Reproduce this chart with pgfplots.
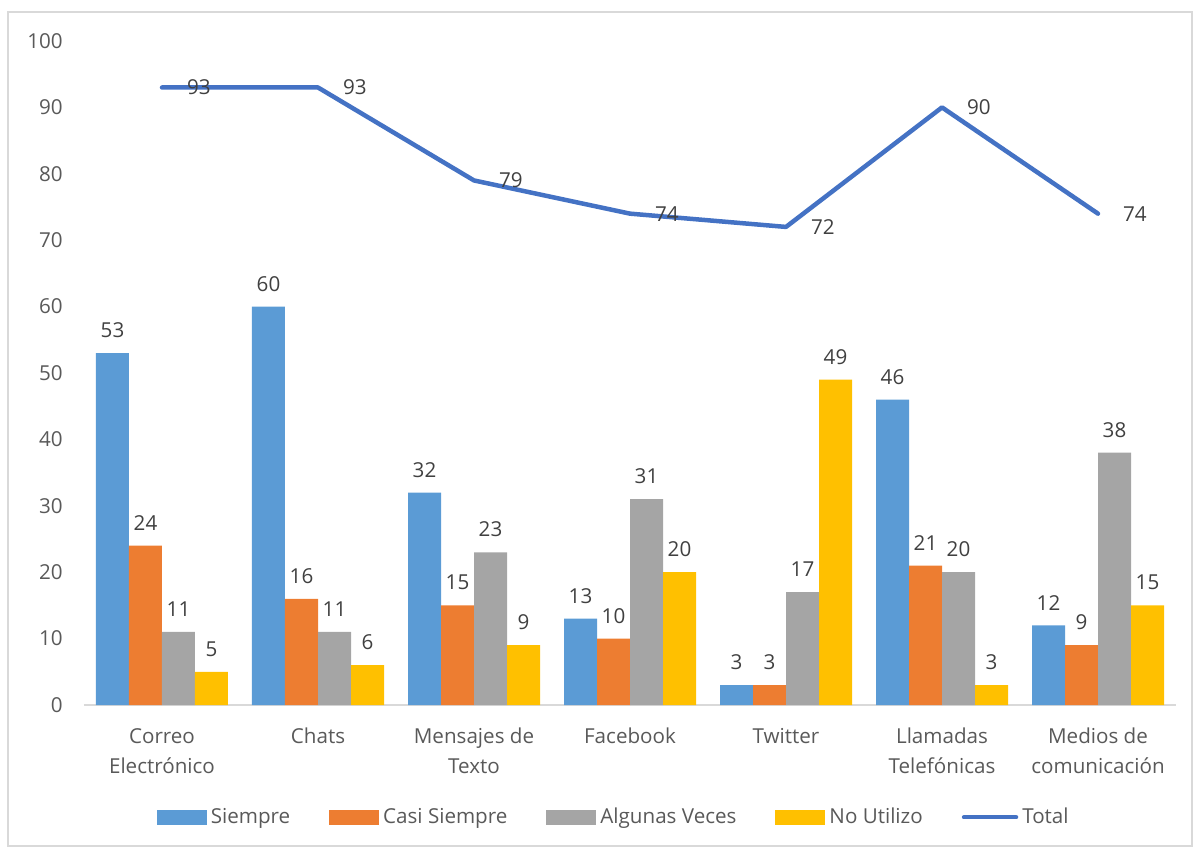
\documentclass[border=0pt]{standalone}
\usepackage{pgfplots}
\pgfplotsset{compat=1.18}
\usepackage{fontspec}
\setmainfont{Open Sans}
\definecolor{cS}{HTML}{5B9BD5}
\definecolor{cC}{HTML}{ED7D31}
\definecolor{cA}{HTML}{A5A5A5}
\definecolor{cN}{HTML}{FFC000}
\definecolor{cT}{HTML}{4472C4}
\definecolor{lab}{HTML}{404040}
\definecolor{tick}{HTML}{595959}
\definecolor{axl}{HTML}{D9D9D9}
\begin{document}
\fontsize{10.3}{15}\selectfont
\begin{tikzpicture}
\path[use as bounding box] (-42pt,-71.5pt) rectangle (555pt,352.5pt);
\draw[color=axl, line width=0.75pt] (-38pt,-70.5pt) rectangle (554pt,346.5pt);
\begin{axis}[
  at={(0,0)}, anchor=south west,
  scale only axis, width=546pt, height=332pt,
  xmin=-0.5, xmax=6.5, ymin=0, ymax=100,
  ytick={0,10,...,100},
  xtick={0,...,6},
  xticklabels={Correo\\Electrónico, Chats, Mensajes de\\Texto, Facebook, Twitter, Llamadas\\Telefónicas, Medios de\\comunicación},
  x tick label style={align=center, color=tick, font=\fontsize{10.3}{15}\selectfont, yshift=-8pt},
  y tick label style={color=tick, font=\fontsize{10.3}{15}\selectfont, xshift=-7pt},
  /pgf/number format/assume math mode=true,
  axis x line*=bottom, axis y line*=left,
  y axis line style={draw=none},
  x axis line style={-, draw=axl, line width=0.75pt},
  major tick length=0pt,
  clip=false,
  legend style={at={(0.486,-0.169)}, anchor=center, draw=none, fill=none,
    legend columns=-1, font=\fontsize{10.3}{15}\selectfont, text=tick,
    /tikz/every even column/.append style={column sep=17.5pt}},
  legend cell align=left,
]
\addplot[ybar, bar width=16.5pt, bar shift=-24.75pt, fill=cS, draw=none,
  nodes near coords, every node near coord/.append style={anchor=south, yshift=4pt, xshift=-24.75pt, color=lab},
  legend image code/.code={\fill[cS] (0pt,-3.75pt) rectangle (25pt,3.75pt);}]
  coordinates {(0,53) (1,60) (2,32) (3,13) (4,3) (5,46) (6,12)};
\addplot[ybar, bar width=16.5pt, bar shift=-8.25pt, fill=cC, draw=none,
  nodes near coords, every node near coord/.append style={anchor=south, yshift=4pt, xshift=-8.25pt, color=lab},
  legend image code/.code={\fill[cC] (0pt,-3.75pt) rectangle (25pt,3.75pt);}]
  coordinates {(0,24) (1,16) (2,15) (3,10) (4,3) (5,21) (6,9)};
\addplot[ybar, bar width=16.5pt, bar shift=8.25pt, fill=cA, draw=none,
  nodes near coords, every node near coord/.append style={anchor=south, yshift=4pt, xshift=8.25pt, color=lab},
  legend image code/.code={\fill[cA] (0pt,-3.75pt) rectangle (25pt,3.75pt);}]
  coordinates {(0,11) (1,11) (2,23) (3,31) (4,17) (5,20) (6,38)};
\addplot[ybar, bar width=16.5pt, bar shift=24.75pt, fill=cN, draw=none,
  nodes near coords, every node near coord/.append style={anchor=south, yshift=4pt, xshift=24.75pt, color=lab},
  legend image code/.code={\fill[cN] (0pt,-3.75pt) rectangle (25pt,3.75pt);}]
  coordinates {(0,5) (1,6) (2,9) (3,20) (4,49) (5,3) (6,15)};
\addplot[sharp plot, color=cT, line width=2.25pt, line cap=round, line join=round, mark=none,
  nodes near coords, every node near coord/.append style={anchor=west, xshift=8pt, color=lab},
  legend image code/.code={\draw[cT, line width=2.25pt, line cap=round] (0pt,0pt) -- (26pt,0pt);}]
  coordinates {(0,93) (1,93) (2,79) (3,74) (4,72) (5,90) (6,74)};
\legend{Siempre, Casi Siempre, Algunas Veces, No Utilizo, Total}
\end{axis}
\end{tikzpicture}
\end{document}
